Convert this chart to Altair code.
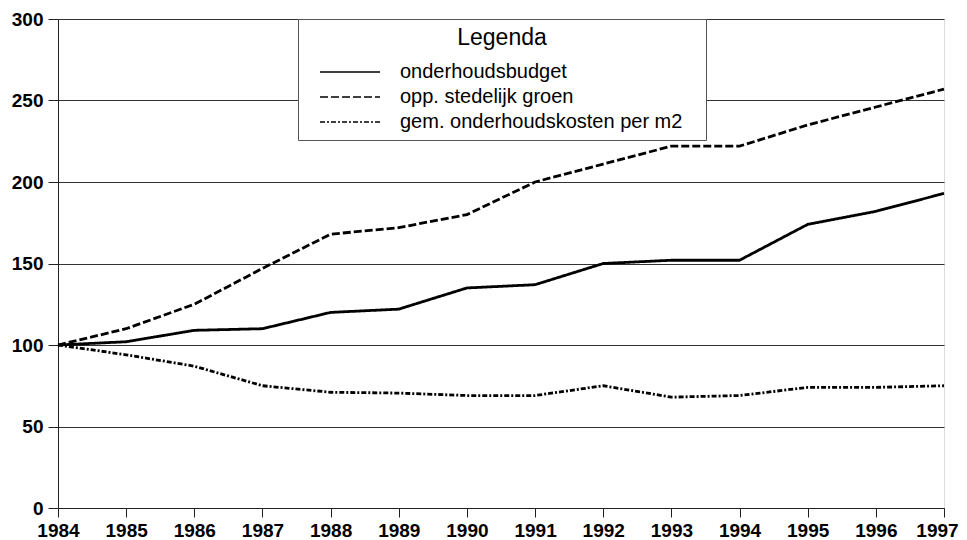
import altair as alt
import pandas as pd

years = list(range(1984, 1998))
series_names = ["onderhoudsbudget", "opp. stedelijk groen", "gem. onderhoudskosten per m2"]
budget = [100, 102, 109, 110, 120, 122, 135, 137, 150, 152, 152, 174, 182, 193]
groen = [100, 110, 125, 147, 168, 172, 180, 200, 211, 222, 222, 235, 246, 257]
kosten = [100, 94, 87, 75, 71, 70.5, 69, 69, 75, 68, 69, 74, 74, 75]
y_ticks = [0, 50, 100, 150, 200, 250, 300]
title_text = "(1984 = 100)"

rows = []
for name, vals in zip(series_names, [budget, groen, kosten]):
    for yr, v in zip(years, vals):
        rows.append({"jaar": yr, "waarde": v, "reeks": name})
df = pd.DataFrame(rows)

FONT = "Liberation Sans"

legend = alt.Legend(
    orient="none", legendX=240, legendY=0,
    title="Legenda", titleFontSize=23, titleFontWeight="normal", titleFont=FONT,
    titleAnchor="middle", titleAlign="center", titlePadding=11, titleColor="black",
    labelFontSize=20, labelFont=FONT, labelColor="black", labelLimit=500,
    labelExpr="datum.label + '\u2800'",
    padding=8, fillColor="white", strokeColor="#555",
    symbolType="M-3,0H3", symbolSize=400, symbolOffset=33, labelOffset=39,
    rowPadding=4, symbolStrokeWidth=1.5, symbolStrokeColor="black",
)

chart = alt.Chart(df).mark_line(color="black", strokeWidth=2.8).encode(
    x=alt.X("jaar:Q", scale=alt.Scale(domain=[1984, 1997], nice=False, zero=False),
            axis=alt.Axis(values=years, format="d", title=None, grid=False,
                          tickSize=9, labelPadding=4, labelFontSize=19,
                          labelOffset=alt.condition("datum.value == 1997", alt.value(-7), alt.value(0)),
                          labelFontWeight="bold", labelFont=FONT, labelColor="black",
                          labelFlush=False, domainColor="#222", tickColor="#222")),
    y=alt.Y("waarde:Q", scale=alt.Scale(domain=[0, 300], nice=False),
            axis=alt.Axis(values=y_ticks, title=None, grid=True, gridColor="#333",
                          gridWidth=1, tickSize=10, labelPadding=5, labelFontSize=19,
                          labelFontWeight="bold", labelFont=FONT, labelColor="black",
                          domainColor="#222", tickColor="#222")),
    strokeDash=alt.StrokeDash("reeks:N",
                              scale=alt.Scale(domain=series_names,
                                              range=[[1, 0], [8, 3], [5, 2, 2, 2]]),
                              sort=series_names, legend=legend),
    detail="reeks:N",
).properties(
    width=886, height=489,
    title=alt.TitleParams(title_text, fontSize=23, fontWeight="bold", font=FONT,
                          anchor="middle", baseline="alphabetic", offset=-2, dx=-16,
                          color="black"),
    autosize=alt.AutoSizeParams(type="none"),
    padding={"left": 50, "top": 11, "right": 15, "bottom": 32},
).configure_view(stroke="#222", strokeWidth=1).configure(background="white")

chart.save("out.html", embed_options={"renderer": "svg", "actions": False})
